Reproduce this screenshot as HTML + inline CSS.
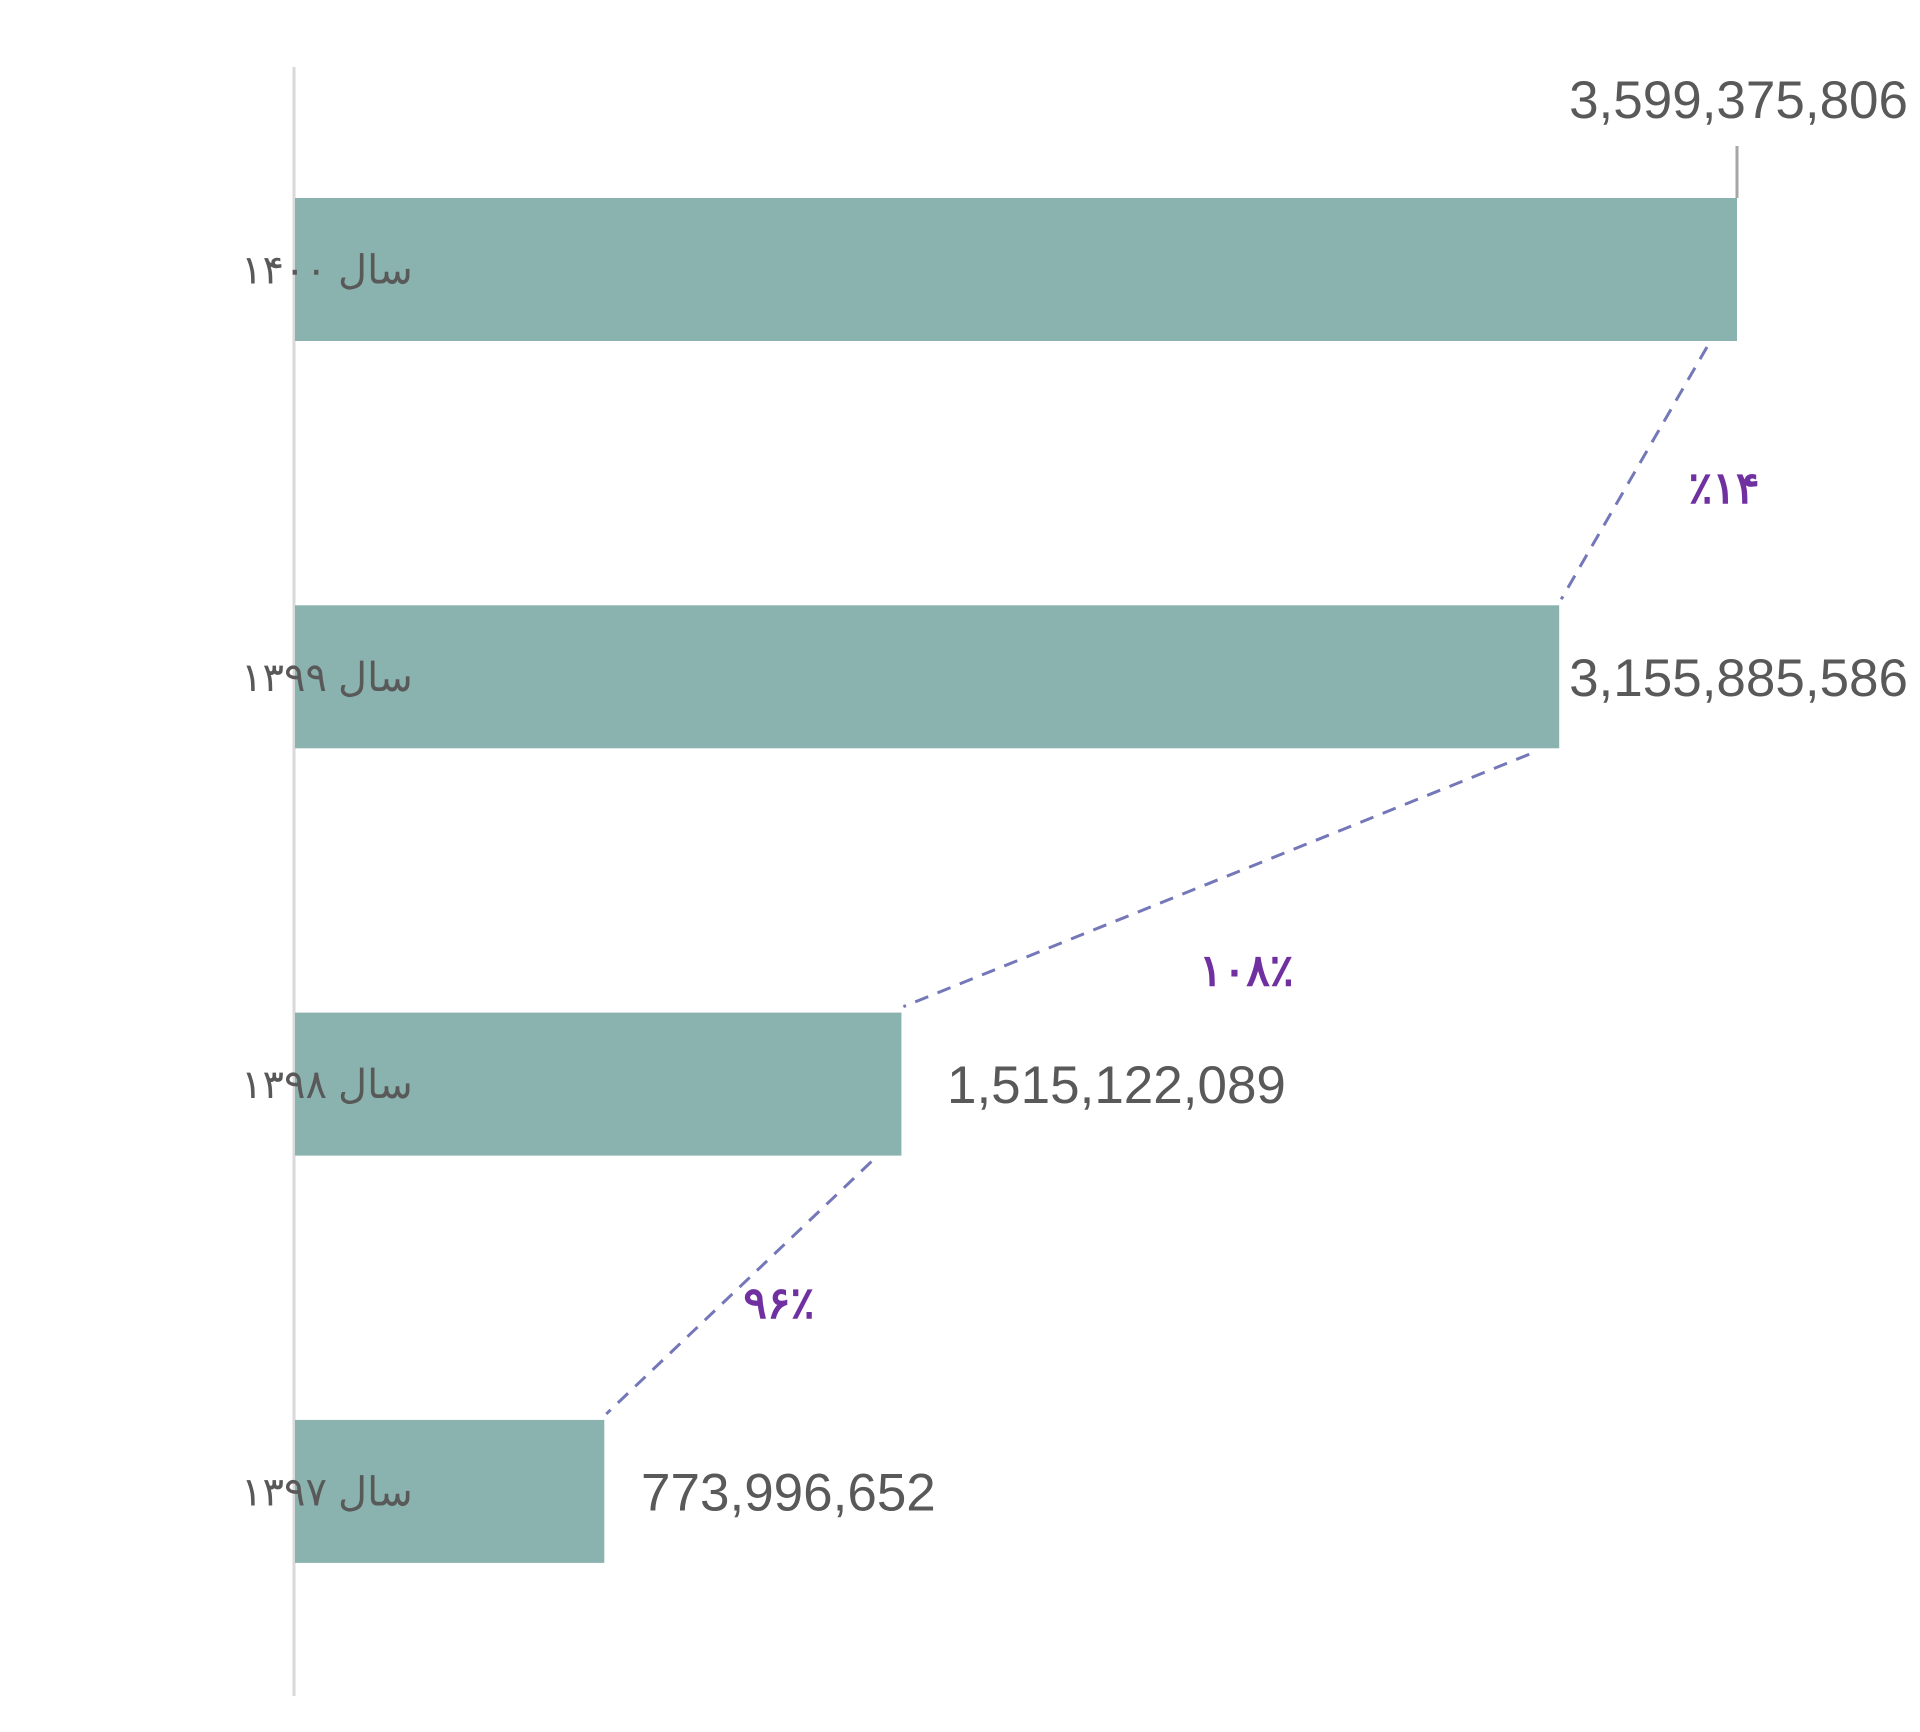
<!DOCTYPE html>
<html><head><meta charset="utf-8"><style>
html,body{margin:0;padding:0;background:#fff;width:1920px;height:1732px;overflow:hidden}
svg{display:block}
</style></head><body>
<svg id="chart" width="1920" height="1732" xmlns="http://www.w3.org/2000/svg"></svg>
<script>
const categories = ["سال ۱۴۰۰", "سال ۱۳۹۹", "سال ۱۳۹۸", "سال ۱۳۹۷"];
const values = [3599375806, 3155885586, 1515122089, 773996652];
const valueLabels = ["3,599,375,806", "3,155,885,586", "1,515,122,089", "773,996,652"];
const growthLabels = ["٪۱۴", "۱۰۸٪", "۹۶٪"];

const NS = "http://www.w3.org/2000/svg";
const svg = document.getElementById("chart");
const x0 = 294, xMaxPx = 1737, vMax = 3599375806;
function xScale(v){ return x0 + (v / vMax) * (xMaxPx - x0); }
const bandTop = 198, bandStep = 407.3, barH = 143;
function yTop(i){ return bandTop + i * bandStep; }
function mk(tag, attrs){ const e = document.createElementNS(NS, tag); for (const k in attrs) e.setAttribute(k, attrs[k]); svg.appendChild(e); return e; }

const axis = mk("line", {x1: x0, y1: 67, x2: x0, y2: 1696, stroke: "#d9d9d9", "stroke-width": 3});



values.forEach((v, i) => {
  const yt = yTop(i), xr = xScale(v);
  const bar = mk("rect", {x: x0 + 1, y: yt, width: xr - x0 - 1, height: barH, fill: "#8ab3af"});
  
  

  const cat = mk("text", {x: 241, y: yt + barH / 2 + 14, "text-anchor": "end", "font-size": 40, fill: "#595959", "font-family": "'Liberation Sans','Noto Sans CJK SC',sans-serif", direction: "rtl"});
  cat.textContent = categories[i];
  
  

  let lx, ly;
  if (i === 0) {
    lx = 1908; ly = 118;
    const lead = mk("line", {x1: xr, y1: 146, x2: xr, y2: yt, stroke: "#a6a6a6", "stroke-width": 3});
    
    
  } else if (xr + 30 + 345 > 1915) {
    lx = 1908; ly = yt + barH / 2 + 19;
  } else {
    lx = xr + 40 + valueLabels[i].length * 26.5; ly = yt + barH / 2 + 19;
  }
  const vl = mk("text", {x: lx, y: ly, "text-anchor": "end", "font-size": 53, fill: "#595959", "font-family": "'Liberation Sans',sans-serif"});
  vl.textContent = valueLabels[i];
  
  
});

for (let i = 0; i < values.length - 1; i++) {
  const xa = xScale(values[i]) - 30, ya = yTop(i) + barH + 6;
  const xb = xScale(values[i + 1]) + 2, yb = yTop(i + 1) - 6;
  const ln = mk("line", {x1: xa, y1: ya, x2: xb, y2: yb, stroke: "#7477b8", "stroke-width": 3, "stroke-dasharray": "14 10"});
  
  
  const mx = (xa + xb) / 2, my = (ya + yb) / 2;
  const off = i === 0 ? 90 : (i === 1 ? 30 : 40);
  const gl = mk("text", {x: mx + off, y: my + (i === 1 ? 105 : 30), "text-anchor": "middle", "font-size": 44, "font-weight": "bold", fill: "#7030a0", "font-family": "'Liberation Sans','Noto Sans CJK SC',sans-serif"});
  gl.textContent = growthLabels[i];
  
  
}
</script>
</body></html>
